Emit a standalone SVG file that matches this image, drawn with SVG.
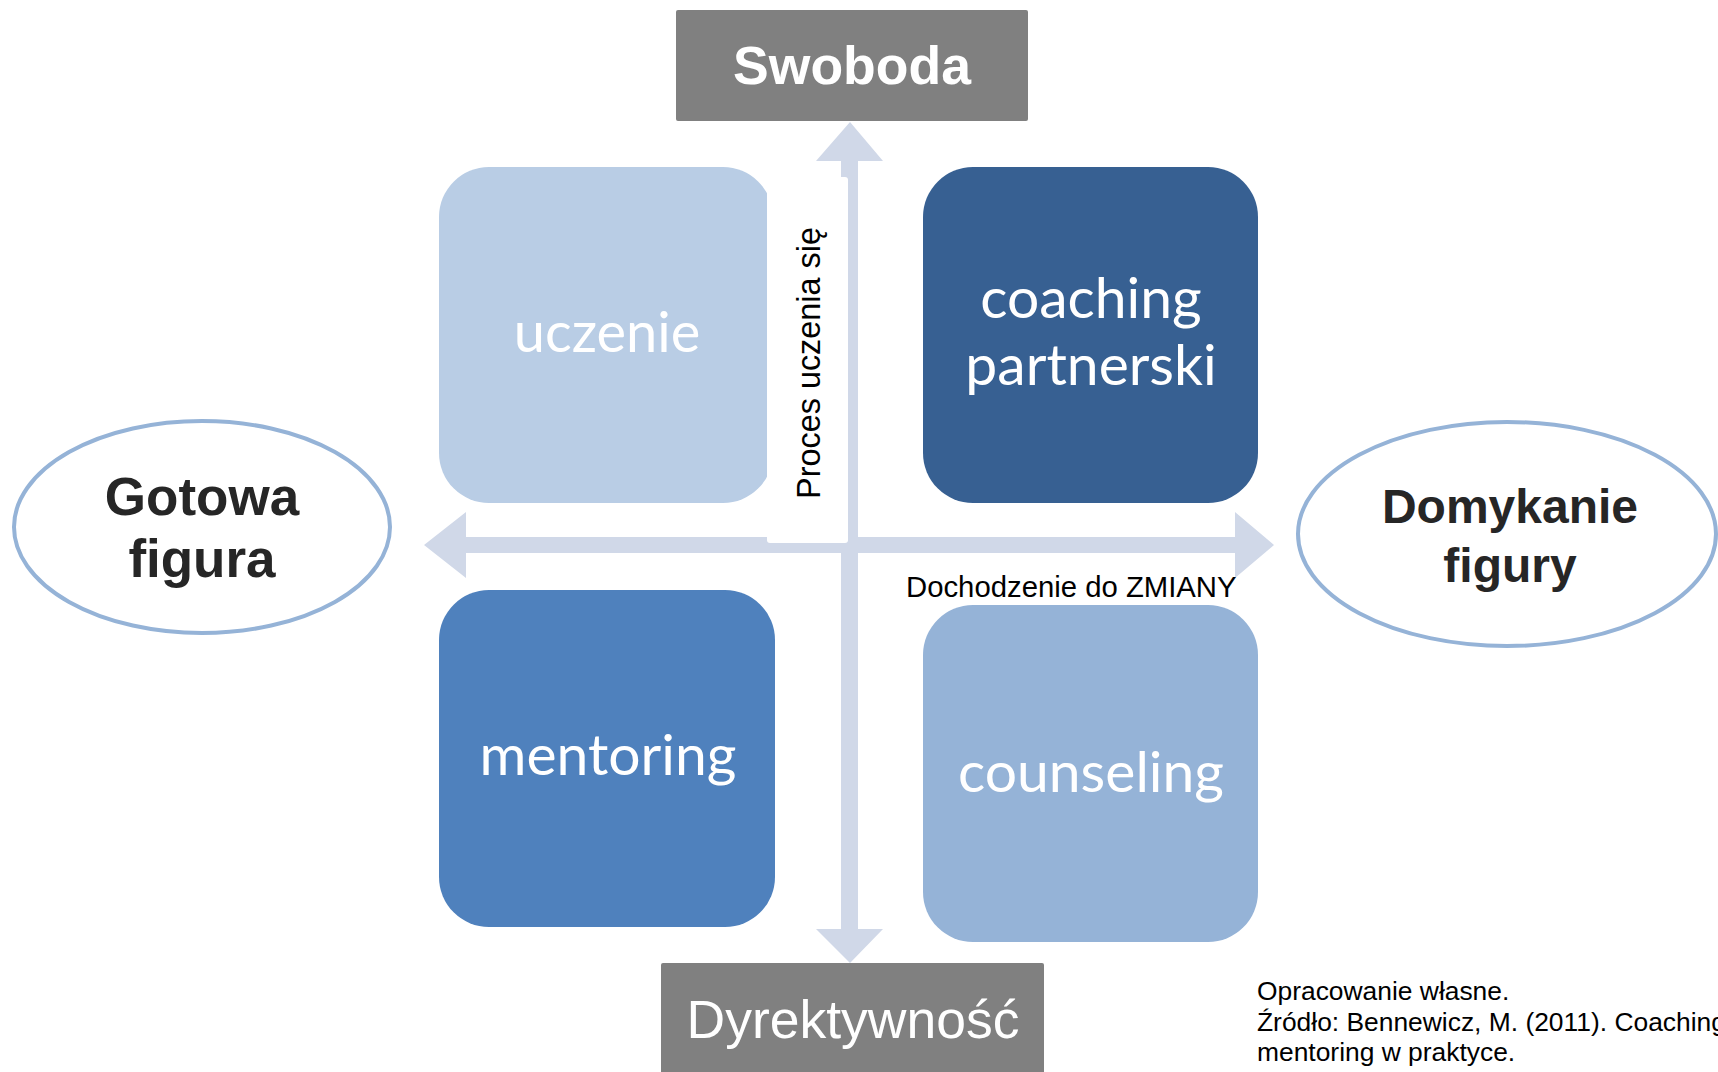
<svg xmlns="http://www.w3.org/2000/svg" width="1718" height="1072" viewBox="0 0 1718 1072">
<style>
.box text{font-family:Lato,"Open Sans",sans-serif;font-size:57px;fill:#fff;text-anchor:middle}
.oval ellipse{fill:#fff;stroke:#95B3D7;stroke-width:4}
.oval text{font-family:"Liberation Sans",Arial,sans-serif;font-weight:bold;fill:#262626;text-anchor:middle}
.axis rect{fill:#808080}
.axis text{font-family:"Liberation Sans",Arial,sans-serif;fill:#fff;text-anchor:middle}
.arrow{fill:#D0D8E8}
.lbl{font-family:"Liberation Sans",Arial,sans-serif;fill:#000}
</style>
<rect width="1718" height="1072" fill="#fff"/>
<g id="uczenie" class="box"><rect x="439" y="167" width="334" height="336" rx="50" fill="#B9CDE5"/><text x="607" y="352" style="font-size:56px">uczenie</text></g>
<g id="coaching" class="box"><rect x="923" y="167" width="335" height="336" rx="50" fill="#376092"/><text x="1091" y="318">coaching</text><text x="1091" y="385">partnerski</text></g>
<g id="mentoring" class="box"><rect x="439" y="590" width="336" height="337" rx="50" fill="#4F81BD"/><text x="608" y="775">mentoring</text></g>
<g id="counseling" class="box"><rect x="923" y="605" width="335" height="337" rx="50" fill="#95B3D7"/><text x="1091" y="792">counseling</text></g>
<g id="connectors">
<polygon class="arrow" points="850,122 883,161 858,161 858,929 883,929 850,963 816,929 841,929 841,161 816,161"/>
<polygon class="arrow" points="424,545 466,512 466,537 1235,537 1235,512 1274,545 1235,578 1235,553 466,553 466,578"/>
</g>
<g id="label-proces"><rect x="767" y="177" width="81" height="366" rx="3" fill="#fff"/><text class="lbl" font-size="32.4" text-anchor="middle" transform="translate(820,363) rotate(-90)">Proces uczenia się</text></g>
<g id="label-zmiana"><text class="lbl" x="906" y="597" font-size="29.3">Dochodzenie do ZMIANY</text></g>
<g id="swoboda" class="axis"><rect x="676" y="10" width="352" height="111" rx="2"/><text x="852" y="84" font-size="53.5" font-weight="bold">Swoboda</text></g>
<g id="dyrektywnosc" class="axis"><rect x="661" y="963" width="383" height="120" rx="2"/><text x="853" y="1038" font-size="53.5">Dyrektywność</text></g>
<g id="gotowa" class="oval"><ellipse cx="202" cy="527" rx="188" ry="106"/><text x="202" y="515" font-size="53">Gotowa</text><text x="202" y="577" font-size="53">figura</text></g>
<g id="domykanie" class="oval"><ellipse cx="1507" cy="534" rx="209" ry="112"/><text x="1510" y="523" font-size="48">Domykanie</text><text x="1510" y="582" font-size="48">figury</text></g>
<g id="footer"><text class="lbl" font-size="26.4"><tspan x="1257" y="1000">Opracowanie własne.</tspan><tspan x="1257" y="1031">Źródło: Bennewicz, M. (2011). Coaching</tspan><tspan x="1257" y="1061">mentoring w praktyce.</tspan></text></g>
</svg>
